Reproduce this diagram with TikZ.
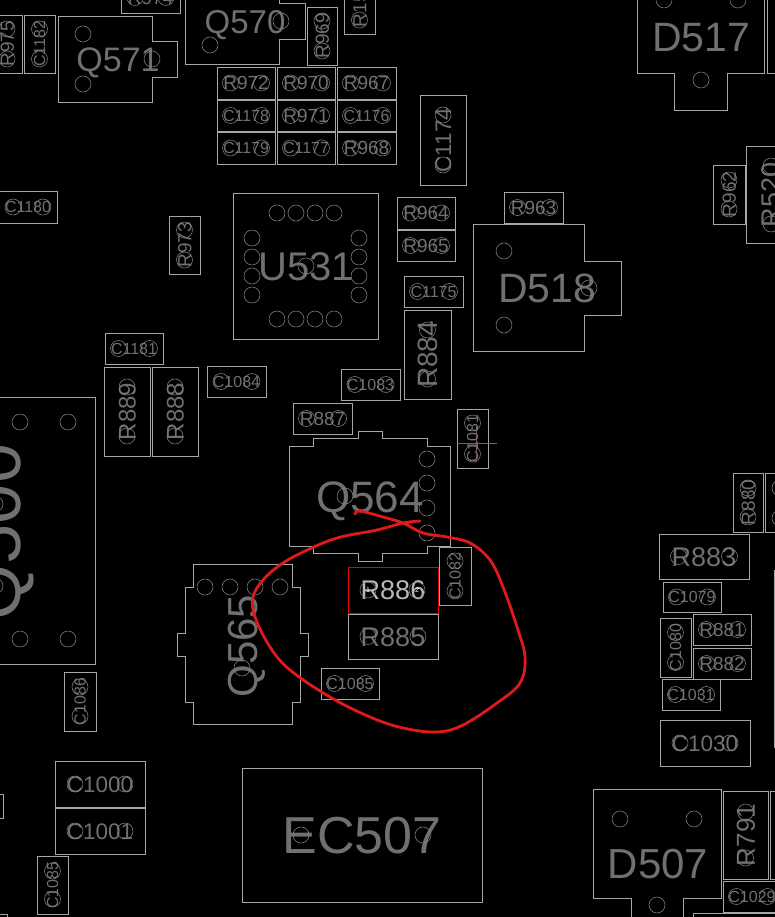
\documentclass[tikz,border=0pt]{standalone}
\usepackage{fontspec}
\setmainfont{Liberation Sans}
\definecolor{outl}{HTML}{A6A6A6}
\definecolor{pinc}{HTML}{848484}
\definecolor{txtc}{HTML}{707070}
\definecolor{redm}{HTML}{E01A1A}
\newcommand{\fsz}[1]{\fontsize{#1}{#1}\selectfont}
\tikzset{
  x=1pt,y=-1pt,
  outline/.style={draw=outl,line width=0.9pt},
  pinring/.style={draw=pinc,line width=0.55pt},
  lab/.style={text=txtc,inner sep=0pt,outer sep=0pt,font=\fsz{#1},text height=0.716*#1 pt,text depth=0pt},
}
\newcommand{\pinat}[2]{\draw[pinring] (#1,#2) circle[radius=8pt];}
% horizontal part: name, x1,y1,x2,y2, label, size, inset
\newcommand{\hp}[8]{%
  \draw[outline] (#2,#3) rectangle (#4,#5);
  \node[lab={#7}] (#1) at ({(#2+#4)/2},{(#3+#5)/2}) {#6};
  \pinat{{#2+#8}}{{(#3+#5)/2}}
  \pinat{{#4-#8}}{{(#3+#5)/2}}}
% vertical part
\newcommand{\vp}[8]{%
  \draw[outline] (#2,#3) rectangle (#4,#5);
  \node[lab={#7},rotate=90] (#1) at ({(#2+#4)/2},{(#3+#5)/2}) {#6};
  \pinat{{(#2+#4)/2}}{{#3+#8}}
  \pinat{{(#2+#4)/2}}{{#5-#8}}}
\begin{document}
\begin{tikzpicture}
\fill[black] (0,0) rectangle (775,917);
\useasboundingbox (0,0) rectangle (775,917);
\clip (0,0) rectangle (775,917);

% top-left
\vp{R975}{-8}{15}{22}{73}{R975}{19}{14}
\vp{C1182}{24}{15}{55}{73}{C1182}{16}{14}
\draw[outline] (58,16)--(152,16)--(152,41)--(177,41)--(177,77)--(152,77)--(152,102)--(58,102)--cycle;
\node[lab={34}] (Q571) at (118,59) {Q571};
\pinat{83}{34}\pinat{83}{84}\pinat{152}{59}
\hp{R974}{121}{-18}{180}{13}{R974}{19}{14}
\draw[outline] (185,-30)--(185,64)--(279,64)--(279,39)--(305,39)--(305,3)--(279,3)--(279,-30);
\node[lab={33}] (Q570) at (245,22) {Q570};
\pinat{210}{45}\pinat{281}{21}\pinat{210}{-10}
\vp{R969}{307}{7}{337}{65}{R969}{19}{14}
\vp{R959}{344}{-25}{375}{34}{R159}{19}{14}

% grid
\hp{R972}{217}{67}{275}{99}{R972}{19}{13.5}
\hp{R970}{277}{67}{335}{99}{R970}{19}{13.5}
\hp{R967}{337}{67}{396}{99}{R967}{19}{13.5}
\hp{C1178}{217}{100}{275}{131}{C1178}{16}{13.5}
\hp{R971}{277}{100}{335}{131}{R971}{19}{13.5}
\hp{C1176}{337}{100}{396}{131}{C1176}{16}{13.5}
\hp{C1179}{217}{132}{275}{164}{C1179}{16}{13.5}
\hp{C1177}{277}{132}{335}{164}{C1177}{16}{13.5}
\hp{R968}{337}{132}{396}{164}{R968}{19}{13.5}

\hp{C1180}{-1}{191}{57}{223}{C1180}{16}{14}
\vp{R973}{169}{216}{200}{274}{R973}{19}{14}

% U531
\draw[outline] (233,193) rectangle (378,339);
\node[lab={40}] (U531) at (306,266) {U531};
\foreach \a in {277,296,315,334}{\pinat{\a}{213}\pinat{\a}{319}}
\foreach \a in {238,257,276,295}{\pinat{252}{\a}\pinat{359}{\a}}
\pinat{306}{266}

% right of U531
\vp{C1174}{420}{95}{466}{185}{C1174}{22.5}{20}
\hp{R964}{397}{197}{455}{229}{R964}{19}{13.5}
\hp{R965}{397}{230}{455}{261}{R965}{19}{13.5}
\hp{R963}{504}{192}{563}{223}{R963}{19}{13.5}
\hp{C1175}{404}{276}{463}{307}{C1175}{16}{13.5}
\vp{R884}{404}{310}{451}{399}{R884}{28}{20}
\draw[outline] (473,224)--(584,224)--(584,261)--(621,261)--(621,315)--(584,315)--(584,351)--(473,351)--cycle;
\node[lab={41}] (D518) at (547,288) {D518};
\pinat{504}{251}\pinat{504}{325}\pinat{589}{288}

% D517
\draw[outline] (637,-30)--(637,73)--(674,73)--(674,110)--(727,110)--(727,73)--(764,73)--(764,-30);
\node[lab={41}] (D517) at (701,37) {D517};
\pinat{701}{80}\pinat{664}{0}\pinat{738}{0}
\draw[outline] (767,-30)--(767,73)--(800,73);
\draw[outline] (746,146) rectangle (810,243);
\node[lab={27},rotate=90] (R520) at (771,195) {R520};
\pinat{771}{224}\pinat{771}{166}
\vp{R962}{713}{165}{745}{224}{R962}{19}{15}

% left middle
\hp{C1181}{105}{333}{163}{364}{C1181}{16}{13.5}
\vp{R889}{104}{367}{150}{456}{R889}{24}{20}
\vp{R888}{152}{367}{198}{456}{R888}{24}{20}
\hp{C1084}{207}{366}{266}{397}{C1084}{16}{14}
\hp{C1083}{341}{369}{400}{400}{C1083}{16}{14}
\draw[outline] (-40,397)--(95,397)--(95,664)--(-40,664);
\node[lab={72},rotate=90] (Q500) at (-5,532) {Q500};
\pinat{20}{422}\pinat{68}{422}\pinat{20}{639}\pinat{68}{639}
\pinat{-5}{504}\pinat{-5}{586}
\vp{C1086}{64}{672}{96}{731}{C1086}{16}{15}
\hp{C1000}{55}{761}{145}{807}{C1000}{22.5}{20}
\hp{C1001}{55}{808}{145}{854}{C1001}{22.5}{20}
\vp{C1085a}{37}{856}{68}{914}{C1085}{16}{15}
\draw[outline] (-5,794) rectangle (3,818);
\draw[outline] (-5,914) rectangle (7,930);

% Q564
\hp{R887}{293}{403}{352}{434}{R887}{19}{13.5}
\vp{C1081}{457}{409}{488}{468}{C1081}{16}{14}
\draw[draw={rgb,255:red,128;green,92;blue,92},line width=0.8pt] (457,443)--(497,443) (476,425)--(476,462);
\draw[outline] (289,446)--(313,446)--(313,438)--(358,438)--(358,431)--(382,431)--(382,438)--(427,438)--(427,446)--(450,446)--(450,546)--(427,546)--(427,553)--(382,553)--(382,561)--(358,561)--(358,553)--(313,553)--(313,546)--(289,546)--cycle;
\node[lab={44}] (Q564) at (370,497) {Q564};
\pinat{427}{459}\pinat{427}{483}\pinat{427}{508}\pinat{427}{533}\pinat{345}{496}

% Q565
\draw[outline] (193,564)--(292,564)--(292,587)--(300,587)--(300,633)--(308,633)--(308,656)--(300,656)--(300,702)--(292,702)--(292,724)--(193,724)--(193,702)--(185,702)--(185,656)--(177,656)--(177,633)--(185,633)--(185,587)--(193,587)--cycle;
\node[lab={42},rotate=90] (Q565) at (242,646) {Q565};
\pinat{205}{587}\pinat{230}{587}\pinat{255}{587}\pinat{280}{587}\pinat{242}{668}

% R886 / R885
\node[lab={27},text=white!72!black] (R886) at (393,590) {R886};
\draw[draw=red!90!black,line width=1pt] (348,567) rectangle (438,613);
\pinat{368}{590}\pinat{417}{590}
\node[inner sep=0pt,text=white,font=\fsz{7}] (pinone) at (368,590) {1};
\node[inner sep=0pt,text=white,font=\fsz{7}] (pintwo) at (417,590) {2};
\hp{R885}{348}{614}{438}{659}{R885}{27}{20}
\vp{C1082}{439}{547}{471}{605}{C1082}{16}{14}
\hp{C1085}{321}{668}{379}{699}{C1085}{16}{13.5}

% EC507
\draw[outline] (242,768) rectangle (482,902);
\node[lab={52}] (EC507) at (362,835) {EC507};
\pinat{301}{835}\pinat{423}{835}

% right column
\vp{R880}{733}{473}{763}{532}{R880}{19}{15}
\draw[outline] (765,473) rectangle (795,532);
\pinat{780}{488}\pinat{780}{518}
\hp{R883}{659}{534}{749}{579}{R883}{27}{19.5}
\hp{C1079}{663}{582}{721}{612}{C1079}{16}{13.5}
\vp{C1080}{660}{618}{691}{677}{C1080}{16}{14.5}
\hp{R881}{693}{614}{751}{645}{R881}{19}{13.5}
\hp{R882}{693}{648}{751}{679}{R882}{19}{13.5}
\hp{C1031}{662}{679}{720}{710}{C1031}{16}{13.5}
\hp{C1030}{660}{720}{750}{766}{C1030}{22.5}{20}
\draw[outline] (800,570)--(774,570)--(774,747)--(800,747);

% D507
\draw[outline] (631,940)--(631,898)--(593,898)--(593,789)--(721,789)--(721,898)--(683,898)--(683,940);
\node[lab={42}] (D507) at (658,863) {D507};
\pinat{620}{819}\pinat{694}{819}\pinat{657}{905}
\vp{R791}{723}{791}{768}{879}{R791}{26}{21}
\draw[outline] (800,791)--(770,791)--(770,879)--(800,879);
\hp{C1029}{723}{881}{781}{912}{C1029}{16}{13.5}
\draw[outline] (693,940)--(693,913)--(800,913);

% red scribble
\draw[redm,line width=2.8pt,line cap=round,line join=round] plot[smooth,tension=0.6] coordinates {
 (355,514) (360,511) (383,517) (403,523) (423,533) (447,537) (470,543) (490,560)
 (503,587) (517,627) (525,657) (520,683) (497,703) (463,725) (437,732) (403,728)
 (370,717) (330,697) (290,670) (270,647) (255,617) (253,597) (263,580) (280,565)
 (303,552) (337,538) (377,530) (403,523) (420,521)};
\end{tikzpicture}
\end{document}
